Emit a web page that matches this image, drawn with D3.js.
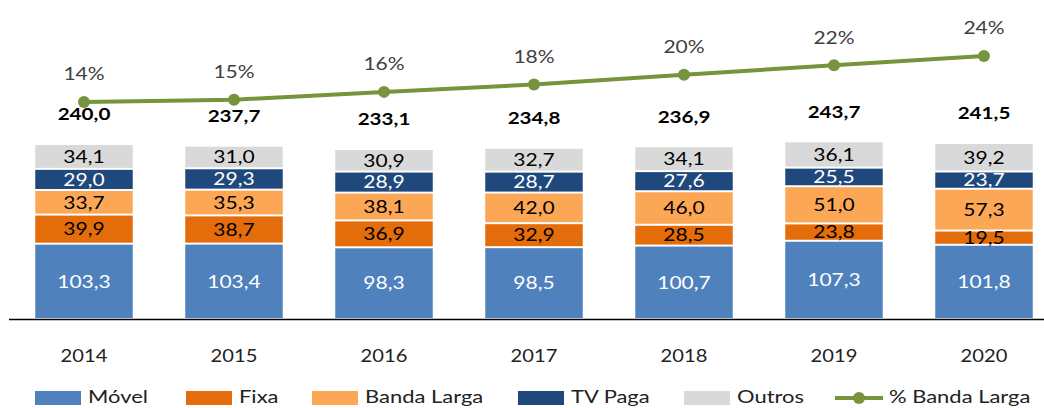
<!DOCTYPE html>
<html>
<head>
<meta charset="utf-8">
<script src="https://cdn.jsdelivr.net/npm/d3@7"></script>
<style>
  body { margin: 0; background: #fff; }
  svg { display: block; font-family: Lato, "Open Sans", sans-serif; }
</style>
</head>
<body>
<svg id="chart" width="1044" height="408"></svg>
<script>
// values
const years = ["2014", "2015", "2016", "2017", "2018", "2019", "2020"];
const movel = [103.3, 103.4, 98.3, 98.5, 100.7, 107.3, 101.8];
const fixa = [39.9, 38.7, 36.9, 32.9, 28.5, 23.8, 19.5];
const bandaLarga = [33.7, 35.3, 38.1, 42.0, 46.0, 51.0, 57.3];
const tvPaga = [29.0, 29.3, 28.9, 28.7, 27.6, 25.5, 23.7];
const outros = [34.1, 31.0, 30.9, 32.7, 34.1, 36.1, 39.2];
const totals = [240.0, 237.7, 233.1, 234.8, 236.9, 243.7, 241.5];
const pctBanda = [14.0, 14.5, 16.2, 17.8, 19.9, 22.0, 24.0];

const series = [
  {key: "Móvel", values: movel, color: "#4f81bd", text: "#fff"},
  {key: "Fixa", values: fixa, color: "#e46c0a", text: "#000"},
  {key: "Banda Larga", values: bandaLarga, color: "#fba755", text: "#000"},
  {key: "TV Paga", values: tvPaga, color: "#1f497d", text: "#fff"},
  {key: "Outros", values: outros, color: "#d9d9d9", text: "#000"}
];
const lineColor = "#77933c";

const svg = d3.select("#chart");
const fmt = v => v.toFixed(1).replace(".", ",");

// the source text is a bit stretched sideways, so texts get a scaleX
function label(g, px, py, str, opts) {
  opts = opts || {};
  const sx = opts.sx || 1.2;
  return g.append("text")
    .attr("transform", "translate(" + px + "," + py + ") scale(" + sx + ",1)")
    .attr("dy", "0.36em")
    .attr("text-anchor", opts.anchor || "middle")
    .style("font-size", (opts.size || 17.5) + "px")
    .style("font-weight", opts.bold ? "bold" : null)
    .attr("fill", opts.fill || "#000")
    .text(str);
}

const x = d3.scaleBand().domain(years).range([9, 1059])
  .paddingInner(0.35).paddingOuter(0.175);
const cx = yr => x(yr) + x.bandwidth() / 2;
const y = d3.scaleLinear().domain([0, 240]).range([319, 144]);
const yp = d3.scaleLinear().domain([14, 24]).range([102, 56]);

// stack data
const rows = years.map((yr, i) => {
  const r = {year: yr};
  series.forEach(s => r[s.key] = s.values[i]);
  return r;
});
const stacked = d3.stack().keys(series.map(s => s.key))(rows);

const bars = svg.append("g").attr("class", "bars");
const labels = svg.append("g").attr("class", "labels");

stacked.forEach((layer, li) => {
  const s = series[li];
  bars.append("g").selectAll("rect")
    .data(layer)
    .enter().append("rect")
    .attr("x", d => x(d.data.year))
    .attr("width", x.bandwidth())
    .attr("y", d => y(d[1]) + 1)
    .attr("height", d => Math.max(0, y(d[0]) - y(d[1]) - 2))
    .attr("fill", s.color);

  layer.forEach(d => {
    label(labels, cx(d.data.year), (y(d[0]) + y(d[1])) / 2, fmt(d[1] - d[0]), {fill: s.text});
  });
});

// totals
totals.forEach((t, i) => {
  label(labels, cx(years[i]), y(t) - 30, fmt(t), {bold: true, sx: 1.18});
});

// baseline
svg.append("line")
  .attr("x1", 9).attr("x2", 1044)
  .attr("y1", y(0) + 0.5).attr("y2", y(0) + 0.5)
  .attr("stroke", "#000").attr("stroke-width", 1.5);

// year labels
years.forEach(yr => label(labels, cx(yr), 356, yr, {fill: "#222", size: 18, sx: 1.12}));

// % banda larga line
const line = d3.line()
  .x((d, i) => cx(years[i]))
  .y(d => yp(d));

svg.append("path")
  .datum(pctBanda)
  .attr("d", line)
  .attr("fill", "none")
  .attr("stroke", lineColor)
  .attr("stroke-width", 4);

svg.append("g").selectAll("circle")
  .data(pctBanda)
  .enter().append("circle")
  .attr("cx", (d, i) => cx(years[i]))
  .attr("cy", d => yp(d))
  .attr("r", 6)
  .attr("fill", lineColor);

pctBanda.forEach((p, i) => {
  label(labels, cx(years[i]), yp(p) - 28, Math.round(p) + "%", {fill: "#404040"});
});

// legend
const legendX = [35, 186, 312, 518, 684];
const legend = svg.append("g").attr("class", "legend");
series.forEach((s, i) => {
  legend.append("rect")
    .attr("x", legendX[i]).attr("y", 391)
    .attr("width", 46).attr("height", 14)
    .attr("fill", s.color);
  label(legend, legendX[i] + 53, 397, s.key, {anchor: "start", size: 18, sx: 1.22, fill: "#222"});
});
legend.append("line")
  .attr("x1", 835).attr("x2", 883)
  .attr("y1", 398).attr("y2", 398)
  .attr("stroke", lineColor).attr("stroke-width", 4);
legend.append("circle")
  .attr("cx", 859).attr("cy", 398).attr("r", 6)
  .attr("fill", lineColor);
label(legend, 889, 397, "% Banda Larga", {anchor: "start", size: 18, sx: 1.22, fill: "#222"});
</script>
</body>
</html>
